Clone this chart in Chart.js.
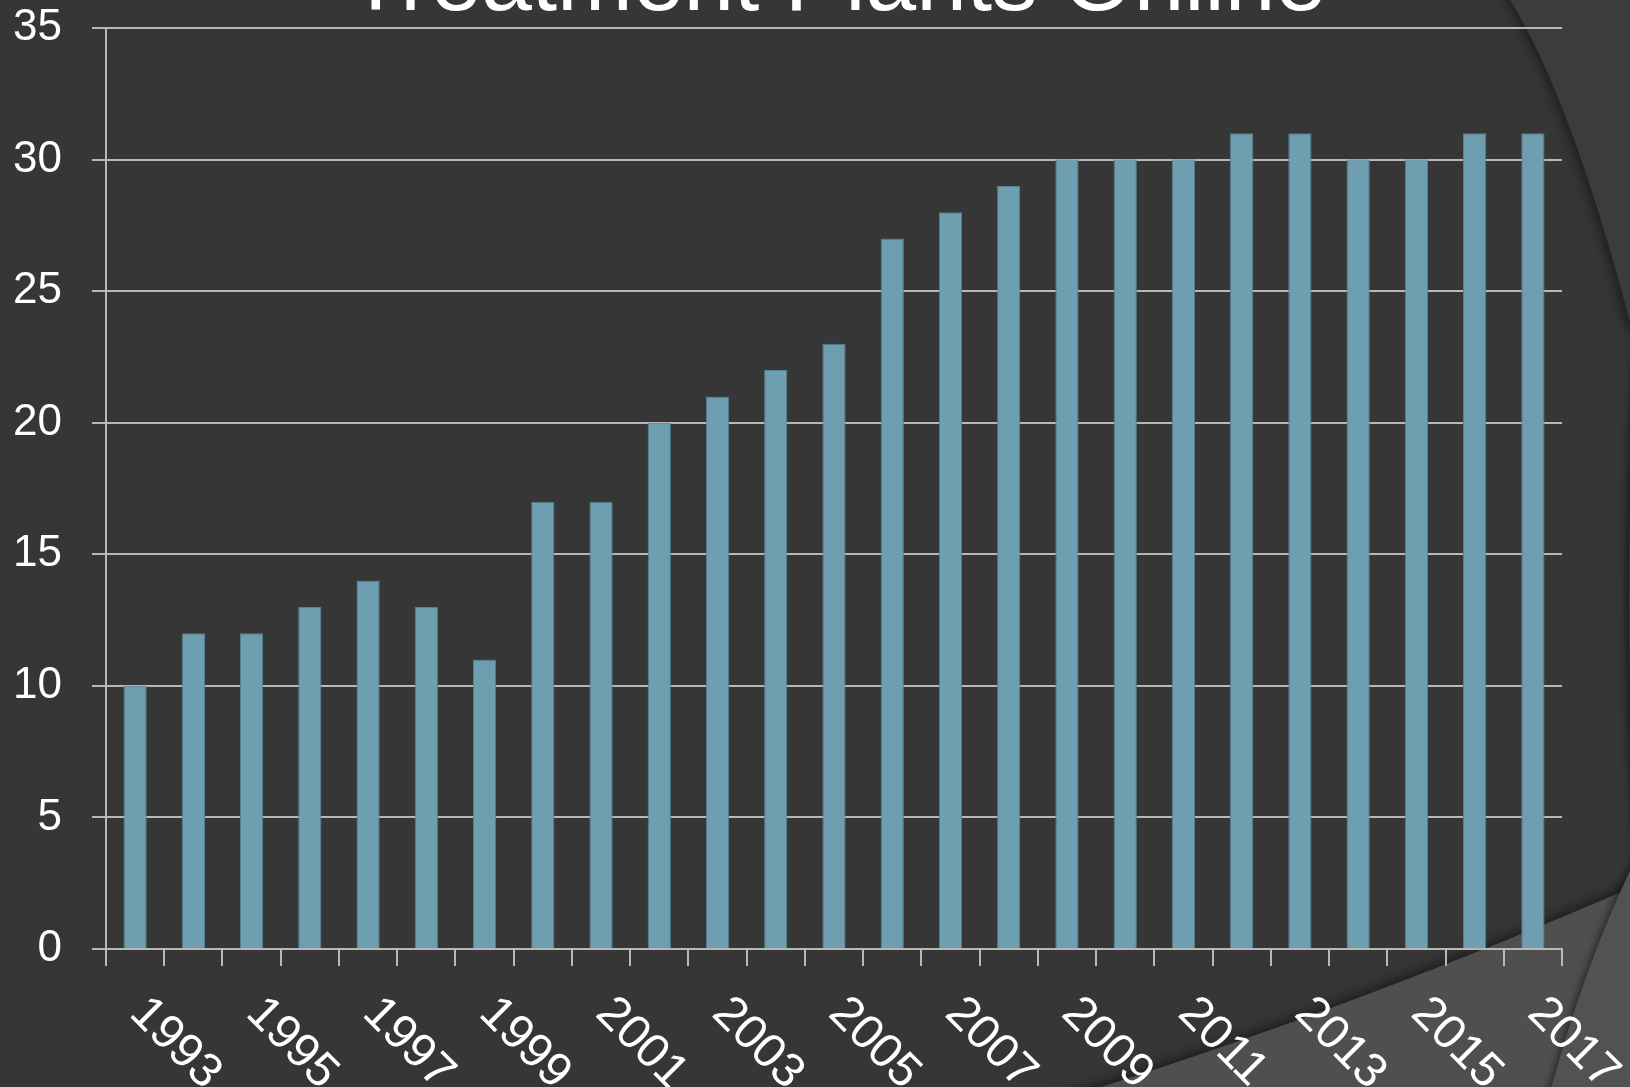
<!DOCTYPE html>
<html>
<head>
<meta charset="utf-8">
<script src="https://cdn.jsdelivr.net/npm/chart.js@4"></script>
<style>
  html, body { margin: 0; padding: 0; background: #363636; overflow: hidden; }
  #wrap { position: relative; width: 1630px; height: 1087px; }
  #title {
    position: absolute; left: 22px; top: -67px; width: 1630px;
    text-align: center; color: #ffffff;
    font: 91px/91px "Liberation Sans", Arial, sans-serif;
    white-space: nowrap; z-index: 2;
  }
  canvas { display: block; }
</style>
</head>
<body>
<div id="wrap">
  <div id="title">Treatment Plants Online</div>
  <canvas id="chart" width="1630" height="1087"></canvas>
</div>
<script>
const years = ['1993','1994','1995','1996','1997','1998','1999','2000','2001','2002','2003','2004','2005',
  '2006','2007','2008','2009','2010','2011','2012','2013','2014','2015','2016','2017'];
const plants = [10, 12, 12, 13, 14, 13, 11, 17, 17, 20, 21, 22, 23, 27, 28, 29, 30, 30, 30, 31, 31, 30, 30, 31, 31];
// only every other year gets a label
const shownYears = years.filter((y, i) => i % 2 === 0);

const FONT = '"Liberation Sans", Arial, sans-serif';

// slide background with the theme's curved panels
const backdrop = {
  id: 'backdrop',
  beforeDraw(chart) {
    const ctx = chart.ctx;
    const w = chart.width, h = chart.height;
    ctx.save();
    ctx.fillStyle = '#363636';
    ctx.fillRect(0, 0, w, h);

    ctx.shadowColor = 'rgba(0,0,0,0.55)';
    ctx.shadowBlur = 14;
    ctx.shadowOffsetX = -3;

    // upper right panel
    ctx.fillStyle = '#3c3c3c';
    ctx.beginPath();
    ctx.moveTo(1510, 0);
    ctx.quadraticCurveTo(1572, 100, 1632, 330);
    ctx.lineTo(1660, 330);
    ctx.lineTo(1660, -20);
    ctx.lineTo(1510, -20);
    ctx.closePath();
    ctx.fill();

    // thin band hugging the right edge
    ctx.shadowBlur = 8;
    ctx.fillStyle = '#393939';
    ctx.beginPath();
    ctx.moveTo(1640, 290);
    ctx.quadraticCurveTo(1618, 600, 1640, 900);
    ctx.closePath();
    ctx.fill();

    // lower right panel
    ctx.shadowBlur = 14;
    ctx.shadowOffsetX = 0;
    ctx.shadowOffsetY = -3;
    ctx.fillStyle = '#4f4f4f';
    ctx.beginPath();
    ctx.moveTo(1060, 1100);
    ctx.quadraticCurveTo(1350, 1010, 1640, 884);
    ctx.lineTo(1660, 1110);
    ctx.closePath();
    ctx.fill();

    // small curved sliver in the corner
    ctx.shadowOffsetY = 0;
    ctx.shadowOffsetX = -2;
    ctx.shadowBlur = 8;
    ctx.fillStyle = '#525252';
    ctx.beginPath();
    ctx.moveTo(1640, 850);
    ctx.quadraticCurveTo(1585, 960, 1548, 1100);
    ctx.lineTo(1660, 1100);
    ctx.closePath();
    ctx.fill();
    ctx.restore();
  }
};

// slanted year labels, reading downwards to the right
const yearLabels = {
  id: 'yearLabels',
  afterDraw(chart) {
    const ctx = chart.ctx;
    const x = chart.scales.x;
    ctx.save();
    ctx.fillStyle = '#ffffff';
    ctx.font = '48px ' + FONT;
    ctx.textAlign = 'left';
    ctx.textBaseline = 'alphabetic';
    years.forEach((yr, i) => {
      if (!shownYears.includes(yr)) return;
      const px = x.getPixelForValue(i);
      ctx.save();
      ctx.translate(px - 7, chart.chartArea.bottom + 66);
      ctx.rotate(Math.PI / 4);
      ctx.fillText(yr, 0, 0);
      ctx.restore();
    });
    ctx.restore();
  }
};

new Chart(document.getElementById('chart'), {
  type: 'bar',
  data: {
    labels: years,
    datasets: [{
      label: 'Treatment Plants Online',
      data: plants,
      backgroundColor: '#6d9fb0',
      borderColor: '#55808f',
      borderWidth: 1,
      barPercentage: 0.4,
      categoryPercentage: 1
    }]
  },
  options: {
    responsive: false,
    animation: false,
    layout: { padding: { top: 28, right: 68, left: 0, bottom: 0 } },
    plugins: { legend: { display: false }, tooltip: { enabled: false } },
    scales: {
      x: {
        grid: { drawOnChartArea: false, drawTicks: true, tickLength: 17, color: '#b8b8b8', lineWidth: 2 },
        border: { display: true, color: '#b8b8b8', width: 2 },
        ticks: { display: false },
        afterFit: s => { s.height = 138; s.paddingLeft = 0; s.paddingRight = 0; }
      },
      y: {
        min: 0, max: 35,
        ticks: { stepSize: 5, color: '#ffffff', padding: 30, font: { family: FONT, size: 44 } },
        grid: { color: '#b8b8b8', lineWidth: 2, tickLength: 14 },
        border: { display: true, color: '#b8b8b8', width: 2 },
        afterFit: s => { s.width = 106; s.paddingTop = 0; s.paddingBottom = 0; }
      }
    }
  },
  plugins: [backdrop, yearLabels]
});
</script>
</body>
</html>
